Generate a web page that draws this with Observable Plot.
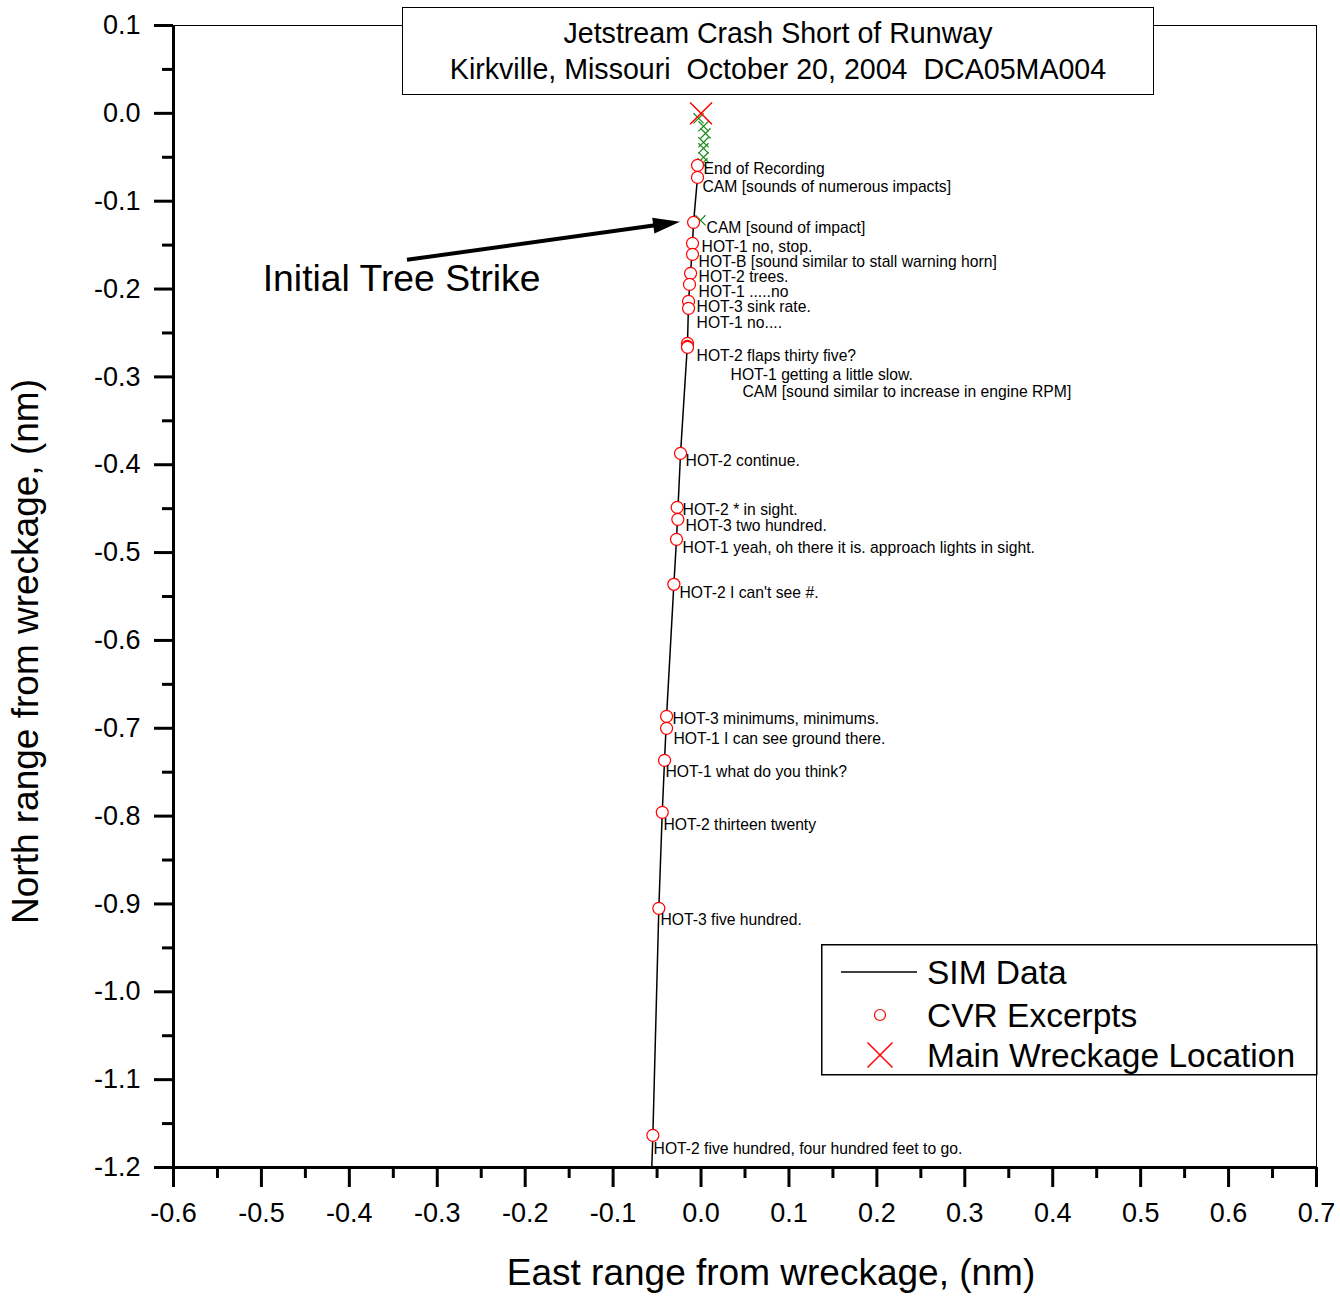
<!DOCTYPE html>
<html>
<head>
<meta charset="utf-8">
<script src="https://cdn.jsdelivr.net/npm/d3@7"></script>
<script src="https://cdn.jsdelivr.net/npm/@observablehq/plot@0.6"></script>
<style>
  html, body { margin: 0; padding: 0; background: #fff; }
  body { font-family: "Liberation Sans", Arial, sans-serif; }
  #wrap { position: relative; width: 1340px; height: 1305px; }
  #chart { position: absolute; left: 0; top: 0; }
  #titlebox { position: absolute; left: 402px; top: 7px; width: 752px; height: 88px; box-sizing: border-box;
              border: 1.5px solid #000; background: #fff; }
  #titlebox div { position: absolute; left: 0; right: 0; text-align: center; font-size: 28.6px; line-height: 32px;
                  white-space: pre; color: #000; }
  #legend { position: absolute; left: 821px; top: 944px; }
</style>
</head>
<body>
<div id="wrap">
  <div id="chart"></div>
  <div id="titlebox"><div id="t1" style="top:8.5px"></div><div id="t2" style="top:44.5px"></div></div>
  <svg id="legend" width="497" height="132"></svg>
</div>
<script>
// ---------- Titles ----------
const titleLines = ["Jetstream Crash Short of Runway", "Kirkville, Missouri  October 20, 2004  DCA05MA004"];
const xTitle = "East range from wreckage, (nm)";
const yTitle = "North range from wreckage, (nm)";
const legendLabels = ["SIM Data", "CVR Excerpts", "Main Wreckage Location"];

// ---------- Tick values ----------
const xTicks = [-0.6, -0.5, -0.4, -0.3, -0.2, -0.1, 0.0, 0.1, 0.2, 0.3, 0.4, 0.5, 0.6, 0.7];
const xMinor = [-0.55, -0.45, -0.35, -0.25, -0.15, -0.05, 0.05, 0.15, 0.25, 0.35, 0.45, 0.55, 0.65];
const yTicks = [0.1, 0.0, -0.1, -0.2, -0.3, -0.4, -0.5, -0.6, -0.7, -0.8, -0.9, -1.0, -1.1, -1.2];
const yMinor = [0.05, -0.05, -0.15, -0.25, -0.35, -0.45, -0.55, -0.65, -0.75, -0.85, -0.95, -1.05, -1.15];

// ---------- SIM Data track (nm) ----------
const simEast  = [-0.0560, -0.0548, -0.0480, -0.0441, -0.0415, -0.0392, -0.0309, -0.0279, -0.0233, -0.0154, -0.0142, -0.0119, -0.0097, -0.0085, -0.0040, -0.0035];
const simNorth = [-1.2000, -1.1634, -0.9050, -0.7957, -0.7365, -0.6864, -0.5361, -0.4849, -0.3870, -0.2618, -0.2140, -0.1821, -0.1480, -0.1241, -0.0729, -0.0592];

// ---------- CVR excerpts ----------
const cvrText = [
  "End of Recording",
  "CAM [sounds of numerous impacts]",
  "CAM [sound of impact]",
  "HOT-1 no, stop.",
  "HOT-B [sound similar to stall warning horn]",
  "HOT-2 trees.",
  "HOT-1 .....no",
  "HOT-3 sink rate.",
  "HOT-1 no....",
  "HOT-2 flaps thirty five?",
  "HOT-1 getting a little slow.",
  "CAM [sound similar to increase in engine RPM]",
  "HOT-2 continue.",
  "HOT-2 * in sight.",
  "HOT-3 two hundred.",
  "HOT-1 yeah, oh there it is. approach lights in sight.",
  "HOT-2 I can't see #.",
  "HOT-3 minimums, minimums.",
  "HOT-1 I can see ground there.",
  "HOT-1 what do you think?",
  "HOT-2 thirteen twenty",
  "HOT-3 five hundred.",
  "HOT-2 five hundred, four hundred feet to go."
];
const cvrEast  = [-0.0040, -0.0040, -0.0085, -0.0097, -0.0097, -0.0119, -0.0131, -0.0142, -0.0142, -0.0154, -0.0154, -0.0154,
                  -0.0233, -0.0271, -0.0264, -0.0279, -0.0309, -0.0392, -0.0392, -0.0415, -0.0441, -0.0480, -0.0548];
const cvrNorth = [-0.0592, -0.0729, -0.1241, -0.1480, -0.1605, -0.1821, -0.1947, -0.2140, -0.2220, -0.2618, -0.2652, -0.2664,
                  -0.3870, -0.4485, -0.4622, -0.4849, -0.5361, -0.6864, -0.7001, -0.7365, -0.7957, -0.9050, -1.1634];
// label anchor points (nm)
const labelEast  = [0.0028, 0.0017, 0.0063, 0.0006, -0.0028, -0.0028, -0.0028, -0.0051, -0.0051, -0.0051, 0.0336, 0.0472,
                    -0.0176, -0.0210, -0.0176, -0.0210, -0.0245, -0.0324, -0.0313, -0.0404, -0.0427, -0.0461, -0.0540];
const labelNorth = [-0.0637, -0.0842, -0.1309, -0.1525, -0.1696, -0.1867, -0.2038, -0.2208, -0.2390, -0.2766, -0.2982, -0.3176,
                    -0.3961, -0.4519, -0.4701, -0.4952, -0.5464, -0.6894, -0.7126, -0.7502, -0.8105, -0.9186, -1.1793];

// ---------- Debris markers (green x) ----------
const debrisEast  = [-0.0028, 0.0028, 0.0051, 0.0028, 0.0028, 0.0028, 0.0017, -0.0006];
const debrisNorth = [-0.0057, -0.0148, -0.0228, -0.0330, -0.0398, -0.0501, -0.0569, -0.1218];

// ---------- Main wreckage ----------
const wreckEast = [0.0];
const wreckNorth = [0.0];

// ---------- Annotation ----------
const annoText = ["Initial Tree Strike"];
const annoEast = [-0.4985];
const annoNorth = [-0.1890];
const arrowEast = [-0.3339, -0.0233];
const arrowNorth = [-0.1673, -0.1241];

// ---------- Build tables ----------
const sim = simEast.map((e, i) => ({east: e, north: simNorth[i]}));
const cvr = cvrText.map((t, i) => ({text: t, east: cvrEast[i], north: cvrNorth[i], lx: labelEast[i], ly: labelNorth[i]}));
const debris = debrisEast.map((e, i) => ({east: e, north: debrisNorth[i]}));
const wreck = wreckEast.map((e, i) => ({east: e, north: wreckNorth[i]}));
const anno = annoText.map((t, i) => ({text: t, east: annoEast[i], north: annoNorth[i]}));

const fmt = d => (Math.abs(d) < 1e-9 ? 0 : d).toFixed(1);

// filled arrow drawn through Plot's scales
const arrowMark = (index, scales, values, dimensions, context) => {
  const doc = (context && context.document) || document;
  const ns = "http://www.w3.org/2000/svg";
  const g = doc.createElementNS(ns, "g");
  const x1 = scales.x(arrowEast[0]), y1 = scales.y(arrowNorth[0]);
  const x2 = scales.x(arrowEast[1]), y2 = scales.y(arrowNorth[1]);
  const dx = x2 - x1, dy = y2 - y1, L = Math.hypot(dx, dy);
  const ux = dx / L, uy = dy / L, px = -uy, py = ux;
  const headL = 27, headW = 8;
  const bx = x2 - ux * headL, by = y2 - uy * headL;
  const line = doc.createElementNS(ns, "line");
  line.setAttribute("x1", x1); line.setAttribute("y1", y1);
  line.setAttribute("x2", bx + ux * 2); line.setAttribute("y2", by + uy * 2);
  line.setAttribute("stroke", "black"); line.setAttribute("stroke-width", 4);
  g.appendChild(line);
  const head = doc.createElementNS(ns, "path");
  head.setAttribute("d", `M${x2},${y2}L${bx + px * headW},${by + py * headW}L${bx - px * headW},${by - py * headW}Z`);
  head.setAttribute("fill", "black");
  g.appendChild(head);
  return g;
};

const chart = Plot.plot({
  width: 1340,
  height: 1305,
  marginLeft: 173,
  marginRight: 24,
  marginTop: 25,
  marginBottom: 138,
  style: {fontFamily: '"Liberation Sans", Arial, sans-serif', background: "white", color: "black"},
  x: {domain: [-0.6, 0.7]},
  y: {domain: [-1.2, 0.1]},
  marks: [
    Plot.frame({stroke: "black", strokeWidth: 1}),
    // minor ticks
    Plot.axisY(yMinor, {tickSize: 11, tickFormat: () => "", strokeWidth: 3, label: null}),
    Plot.axisX(xMinor, {tickSize: 11, tickFormat: () => "", strokeWidth: 3, label: null}),
    // major ticks
    Plot.axisY(yTicks, {tickSize: 19, tickPadding: 14, tickFormat: fmt, fontSize: 27, strokeWidth: 3, label: null}),
    Plot.axisX(xTicks, {tickSize: 20, tickPadding: 15, tickFormat: fmt, fontSize: 27, strokeWidth: 3, label: null}),
    // thick axis lines
    Plot.ruleX([-0.6], {strokeWidth: 3}),
    Plot.ruleY([-1.2], {strokeWidth: 3}),
    // axis titles
    Plot.text([xTitle], {frameAnchor: "bottom", textAnchor: "middle", lineAnchor: "middle", dx: 26, dy: 106, fontSize: 37, text: d => d}),
    Plot.text([yTitle], {frameAnchor: "left", textAnchor: "middle", lineAnchor: "middle", dx: -147, dy: 55, rotate: -90, fontSize: 37, text: d => d}),
    // SIM data line
    Plot.line(sim, {x: "east", y: "north", stroke: "black", strokeWidth: 1.5}),
    // debris markers
    Plot.dot(debris, {x: "east", y: "north", symbol: "times", r: 4.7, stroke: "#1c8c1c", strokeWidth: 1.2}),
    // CVR excerpts
    Plot.dot(cvr, {x: "east", y: "north", r: 6, stroke: "red", fill: "white", strokeWidth: 1.2}),
    Plot.text(cvr, {x: "lx", y: "ly", text: "text", textAnchor: "start", fontSize: 15.7, fill: "black"}),
    // main wreckage
    Plot.dot(wreck, {x: "east", y: "north", symbol: "times", r: 10, stroke: "red", strokeWidth: 1.5}),
    // annotation
    Plot.text(anno, {x: "east", y: "north", text: "text", textAnchor: "start", fontSize: 37.3, fill: "black"}),
    arrowMark
  ]
});
document.getElementById("chart").appendChild(chart);

document.getElementById("t1").textContent = titleLines[0];
document.getElementById("t2").textContent = titleLines[1];

// ---------- Legend ----------
const lg = d3.select("#legend");
lg.append("rect").attr("x", 0.75).attr("y", 0.75).attr("width", 495).attr("height", 130)
  .attr("fill", "white").attr("stroke", "black").attr("stroke-width", 1.5);
const rowY = [28, 71, 111];
lg.append("line").attr("x1", 20).attr("x2", 96).attr("y1", rowY[0]).attr("y2", rowY[0])
  .attr("stroke", "black").attr("stroke-width", 1.5);
lg.append("circle").attr("cx", 59).attr("cy", rowY[1]).attr("r", 5.5)
  .attr("fill", "white").attr("stroke", "red").attr("stroke-width", 1.2);
lg.append("path").attr("d", `M46.5,${rowY[2]-12.5}L71.5,${rowY[2]+12.5}M46.5,${rowY[2]+12.5}L71.5,${rowY[2]-12.5}`)
  .attr("stroke", "red").attr("stroke-width", 1.5).attr("fill", "none");
legendLabels.forEach((t, i) => {
  lg.append("text").attr("x", 106).attr("y", rowY[i] + 11.8)
    .attr("font-family", '"Liberation Sans", Arial, sans-serif').attr("font-size", 33.5)
    .attr("fill", "black").text(t);
});
</script>
</body>
</html>
